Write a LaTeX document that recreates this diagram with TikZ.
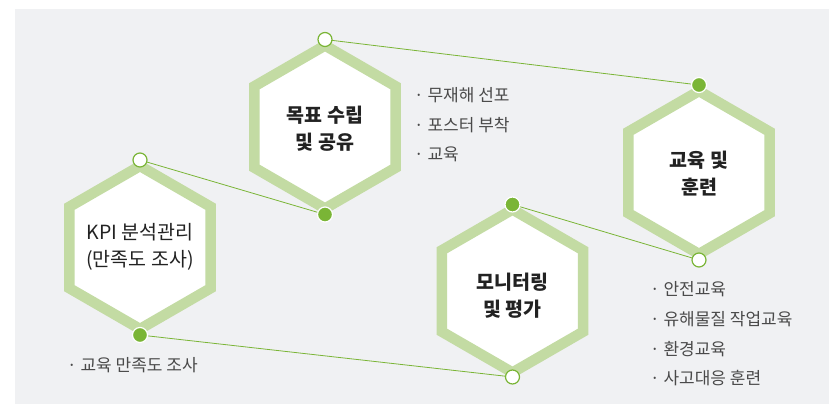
\documentclass[tikz,border=0pt]{standalone}
\usepackage{fontspec}
\setmainfont{Noto Sans CJK KR}
\usetikzlibrary{calc}
\definecolor{bgc}{HTML}{F0F1F3}
\definecolor{hexg}{HTML}{C3DBA3}
\definecolor{dotg}{HTML}{7AB536}
\definecolor{titc}{HTML}{222222}
\definecolor{listc}{HTML}{4A4A4A}
\begin{document}
\begin{tikzpicture}[x=1pt,y=-1pt,
  hexa/.style={draw=hexg, line width=10.5pt, miter limit=10, fill=white},
  link/.style={draw=dotg, line width=0.8pt},
  opendot/.style={circle, draw=dotg, fill=white, line width=1.2pt, minimum size=14pt, inner sep=0pt},
  filldot/.style={circle, draw=white, fill=dotg, line width=1.2pt, minimum size=15pt, inner sep=0pt},
  titlebold/.style={align=center, text=titc, font=\fontsize{19.5}{27}\selectfont\bfseries},
  titlereg/.style={align=center, text=titc, font=\fontsize{19.5}{27}\selectfont},
  listtxt/.style={anchor=west, text=listc, font=\fontsize{17}{20}\selectfont, inner sep=0pt}
]
\useasboundingbox (0,0) rectangle (829,404);
\fill[bgc] (15,9) rectangle (829,404);

% hexagon centres
\coordinate (h1) at (325,127);
\coordinate (h2) at (699,172.5);
\coordinate (h3) at (140,247.5);
\coordinate (h4) at (512.5,291);

\foreach \h in {h1,h2,h3,h4}{
  \path[hexa] ($(\h)+(90:81.5)$) -- ($(\h)+(150:81.5)$) -- ($(\h)+(210:81.5)$) -- ($(\h)+(270:81.5)$) -- ($(\h)+(330:81.5)$) -- ($(\h)+(30:81.5)$) -- cycle;
}

% connector end points
\coordinate (t1) at (325,39.5);
\coordinate (b1) at (325,214.5);
\coordinate (t2) at (699,85);
\coordinate (b2) at (699,260);
\coordinate (t3) at (140,160);
\coordinate (b3) at (140,335);
\coordinate (t4) at (512.5,204.5);
\coordinate (b4) at (512.5,377);

\draw[link] (t1) -- (t2);
\draw[link] (t3) -- (b1);
\draw[link] (t4) -- (b2);
\draw[link] (b3) -- (b4);

\node[opendot] (d-t1) at (t1) {};
\node[filldot] (d-b1) at (b1) {};
\node[filldot] (d-t2) at (t2) {};
\node[opendot] (d-b2) at (b2) {};
\node[opendot] (d-t3) at (t3) {};
\node[filldot] (d-b3) at (b3) {};
\node[filldot] (d-t4) at (t4) {};
\node[opendot] (d-b4) at (b4) {};

\node[titlebold] (n1) at (325,128.5) {목표 수립\\및 공유};
\node[titlebold] (n2) at (699,173.5) {교육 및\\훈련};
\node[titlereg]  (n3) at (140,246.5) {KPI 분석관리\\(만족도 조사)};
\node[titlebold] (n4) at (512.5,295.5) {모니터링\\및 평가};

\node[listtxt] (l11) at (414,95) {· 무재해 선포};
\node[listtxt] (l12) at (414,125) {· 포스터 부착};
\node[listtxt] (l13) at (414,154) {· 교육};

\node[listtxt] (l21) at (650,289) {· 안전교육};
\node[listtxt] (l22) at (650,319) {· 유해물질 작업교육};
\node[listtxt] (l23) at (650,349) {· 환경교육};
\node[listtxt] (l24) at (650,378) {· 사고대응 훈련};

\node[listtxt] (l31) at (67,365) {· 교육 만족도 조사};
\end{tikzpicture}
\end{document}
